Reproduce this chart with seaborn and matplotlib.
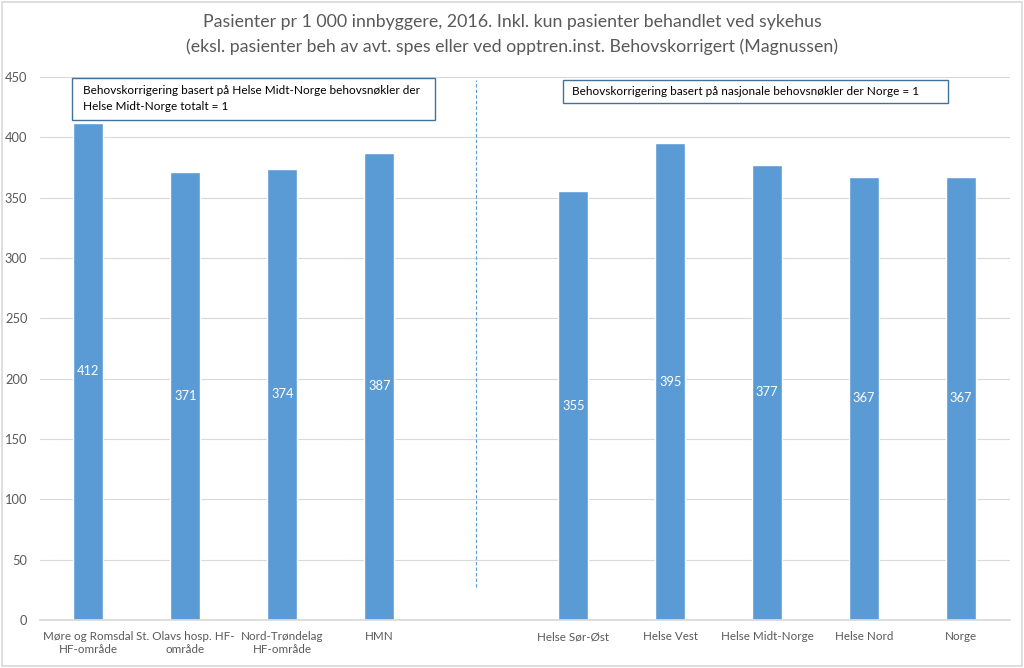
import matplotlib
matplotlib.use("Agg")
import matplotlib.pyplot as plt
import seaborn as sns
import numpy as np
import pandas as pd

categories = ["Møre og Romsdal\nHF-område", "St. Olavs hosp. HF-\nområde", "Nord-Trøndelag\nHF-område", "HMN", " ",
              "Helse Sør-Øst", "Helse Vest", "Helse Midt-Norge", "Helse Nord", "Norge"]
values = [412, 371, 374, 387, np.nan, 355, 395, 377, 367, 367]

title = ("Pasienter pr 1 000 innbyggere, 2016. Inkl. kun pasienter behandlet ved sykehus\n"
         "(eksl. pasienter beh av avt. spes eller ved opptren.inst. Behovskorrigert (Magnussen)")
box_left = "Behovskorrigering basert på Helse Midt-Norge behovsnøkler der\nHelse Midt-Norge totalt = 1"
box_right = "Behovskorrigering basert på nasjonale behovsnøkler der Norge = 1"

sns.set_theme(style="white")
plt.rcParams['font.family'] = ['Lato', 'DejaVu Sans']

TEXT = "#595959"
BAR = "#5B9BD5"
GRID = "#D9D9D9"
BOXEDGE = "#41719C"

df = pd.DataFrame({"cat": categories, "val": values})

fig = plt.figure(figsize=(10.24, 6.68), dpi=100)
ax = fig.add_axes([0.039, 0.072, 0.947, 0.813])

sns.barplot(data=df, x="cat", y="val", order=categories, color=BAR, width=0.31,
            saturation=1, ax=ax, errorbar=None)

ax.set_xlim(-0.5, len(categories) - 0.5)
ax.set_ylim(0, 450)
ax.set_yticks(np.arange(0, 451, 50))
ax.yaxis.grid(True, color=GRID, linewidth=0.8)
ax.set_axisbelow(True)
for s in ["top", "right", "left"]:
    ax.spines[s].set_visible(False)
ax.spines["bottom"].set_color(GRID)
ax.set_xlabel("")
ax.set_ylabel("")
ax.tick_params(axis="y", colors=TEXT, labelsize=9.3, length=0, pad=9)
ax.tick_params(axis="x", colors=TEXT, labelsize=8.4, length=0, pad=8)
for lbl in ax.get_yticklabels():
    lbl.set_color(TEXT)
for lbl in ax.get_xticklabels():
    lbl.set_color(TEXT)

# value labels
for i, v in enumerate(values):
    if not np.isnan(v):
        ax.text(i, v / 2, f"{int(v)}", ha="center", va="center", color="white", fontsize=9.3)

# dashed separator
ax.plot([4, 4], [27, 447], linestyle=(0, (3, 2)), color=BAR, linewidth=0.8)

# text boxes
ax.add_patch(plt.Rectangle((-0.17, 414), 3.74, 35, facecolor="white", edgecolor=BOXEDGE,
                           linewidth=1, zorder=5, clip_on=False))
ax.text(-0.06, 432, box_left, ha="left", va="center", fontsize=8.5, color="black",
        linespacing=1.55, zorder=6)
ax.add_patch(plt.Rectangle((4.89, 428), 3.97, 19, facecolor="white", edgecolor=BOXEDGE,
                           linewidth=1, zorder=5, clip_on=False))
ax.text(4.99, 438, box_right, ha="left", va="center", fontsize=8.5, color="black", zorder=6)

fig.text(0.5, 0.948, title, ha="center", va="center", fontsize=12.8, color=TEXT, linespacing=1.6)

# chart border
fig.patches.append(plt.Rectangle((0.002, 0.003), 0.996, 0.994, transform=fig.transFigure,
                                 fill=False, edgecolor="#D9D9D9", linewidth=1.2))

fig.savefig("out.png", dpi=100)
